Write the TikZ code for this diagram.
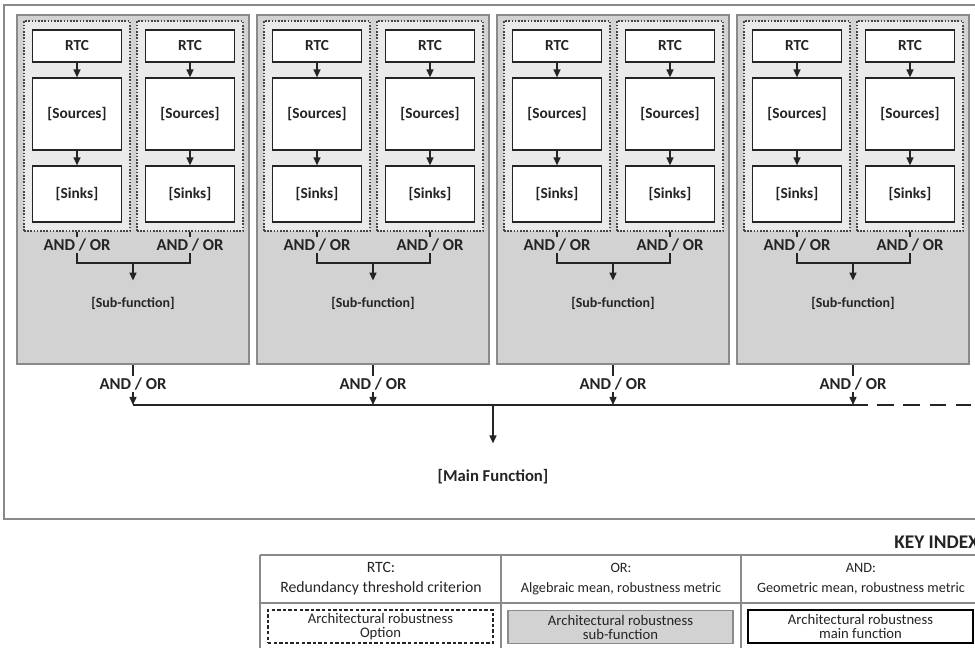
\documentclass[tikz,border=0pt]{standalone}
\usepackage{fontspec}
\setmainfont{Carlito}
\usetikzlibrary{arrows.meta,calc}
\definecolor{panelgray}{HTML}{D2D2D2}
\definecolor{optgray}{HTML}{EAEAEA}
\definecolor{edgegray}{HTML}{8A8A8A}
\definecolor{ink}{HTML}{242424}

% one drawing unit is 0.75pt throughout
\tikzset{
  frame/.style={draw=edgegray, line width=0.9pt},
  panel/.style={draw=edgegray, fill=panelgray, line width=1.2pt,
    minimum width=174pt, minimum height=261.75pt, inner sep=0pt},
  optbox/.style={draw=ink!85, fill=optgray, line width=0.8pt,
    dash pattern=on 1.2pt off 1.2pt,
    minimum width=79.5pt, minimum height=157.5pt, inner sep=0pt},
  blk/.style={draw=ink, fill=white, line width=0.9pt, minimum width=66.75pt,
    inner sep=0pt, text=ink, font=\bfseries\fontsize{11.5}{13}\selectfont},
  andor/.style={inner sep=0pt, minimum height=12pt, text=ink,
    font=\bfseries\fontsize{12.5}{14}\selectfont},
  subfn/.style={inner xsep=0pt, inner ysep=12pt, text=ink,
    font=\bfseries\fontsize{10.5}{12}\selectfont},
  conn/.style={draw=ink, line width=1.05pt},
  withhead/.style={-{Triangle[width=5.25pt,length=6pt]}},
  keyhead/.style={text=ink, align=center, inner sep=0pt,
    font=\fontsize{10.7}{15}\selectfont},
  keybox/.style={minimum width=168.75pt, minimum height=24.75pt, inner sep=0pt,
    text=ink, align=center, font=\fontsize{11}{10.5}\selectfont},
  grid/.style={draw=edgegray, line width=1.1pt}
}

\begin{document}
\begin{tikzpicture}[x=0.75pt, y=-0.75pt]
\useasboundingbox (0,0) rectangle (975,648);
\clip (0,0) rectangle (975,648);

% outer frame of the function tree
\draw[frame] (4,5) rectangle (995,519);

% four sub-function panels, each with two architecture options
\foreach \p in {0,1,2,3}{
  \pgfmathsetmacro\xo{240*\p}
  \node[panel] (panel-\p) at (133+\xo,189.5) {};
  \foreach \c/\cx in {1/77,2/190}{
    \node[optbox] (opt-\p-\c) at (\cx+\xo,126) {};
    \node[blk, minimum height=24pt] (rtc-\p-\c) at (\cx+\xo,46) {RTC};
    \node[blk, minimum height=54pt] (src-\p-\c) at (\cx+\xo,114) {[Sources]};
    \node[blk, minimum height=42pt] (snk-\p-\c) at (\cx+\xo,194) {[Sinks]};
    \draw[conn, withhead] (rtc-\p-\c) -- (src-\p-\c);
    \draw[conn, withhead] (src-\p-\c) -- (snk-\p-\c);
    \node[andor] (lab-\p-\c) at (\cx+\xo,245) {AND / OR};
    \draw[conn] (opt-\p-\c.south) -- (lab-\p-\c.north);
  }
  \coordinate (join-\p) at (133+\xo,263);
  \draw[conn] (lab-\p-1.south) |- (join-\p) -| (lab-\p-2.south);
  \node[subfn] (sub-\p) at (133+\xo,303) {[Sub-function]};
  \draw[conn, withhead] (join-\p) -- (sub-\p.north);
  % link from the panel down to the main bus
  \node[andor] (out-\p) at (133+\xo,384) {AND / OR};
  \coordinate (bus-\p) at (133+\xo,405);
  \draw[conn] (panel-\p.south) -- (out-\p.north);
  \draw[conn, withhead] (out-\p.south) -- (bus-\p);
}

% main bus and its continuation
\coordinate (solidend) at (868,405);
\coordinate (dashstart) at (877,405);
\coordinate (busend) at (971,405);
\draw[conn] (bus-0) -- (solidend);
\draw[conn, dash pattern=on 12.4pt off 7.3pt] (dashstart) -- (busend);

% main function
\coordinate (mainjoin) at (493,405);
\node[text=ink, inner sep=0pt, font=\bfseries\fontsize{12.5}{14}\selectfont]
  (mainfn) at (493,477) {[Main Function]};
\draw[conn, withhead, shorten >=19.5pt] (mainjoin) -- (mainfn.north);

% key index
\node[anchor=west, inner sep=0pt, text=ink,
  font=\bfseries\fontsize{14.5}{16}\selectfont] (keytitle) at (894,542) {KEY INDEX};

\coordinate (tl) at (260,555);
\coordinate (tr) at (985,555);
\coordinate (ml) at (260,603);
\coordinate (mr) at (985,603);
\coordinate (c0b) at (260,655);
\coordinate (c1t) at (501,555);
\coordinate (c1b) at (501,655);
\coordinate (c2t) at (741,555);
\coordinate (c2b) at (741,655);
\draw[grid] (tl) -- (tr);
\draw[grid] (ml) -- (mr);
\draw[grid] (tl) -- (c0b);
\draw[grid] (c1t) -- (c1b);
\draw[grid] (c2t) -- (c2b);

\node[keyhead, font=\fontsize{11.8}{15}\selectfont] (key-rtc) at (381,579)
  {RTC:\\Redundancy threshold criterion};
\node[keyhead] (key-or) at (621,579) {OR:\\Algebraic mean, robustness metric};
\node[keyhead] (key-and) at (861,579) {AND:\\Geometric mean, robustness metric};

\node[keybox, draw=ink, line width=1pt,
  dash pattern=on 2.6pt off 1.6pt] (key-opt) at (380.5,626.5)
  {Architectural robustness\\Option};
\node[keybox, draw=edgegray, fill=panelgray, line width=1.2pt]
  (key-sub) at (620.5,627) {Architectural robustness\\sub-function};
\node[keybox, draw=black, line width=1.8pt]
  (key-main) at (860.5,626.5) {Architectural robustness\\main function};
\end{tikzpicture}
\end{document}
